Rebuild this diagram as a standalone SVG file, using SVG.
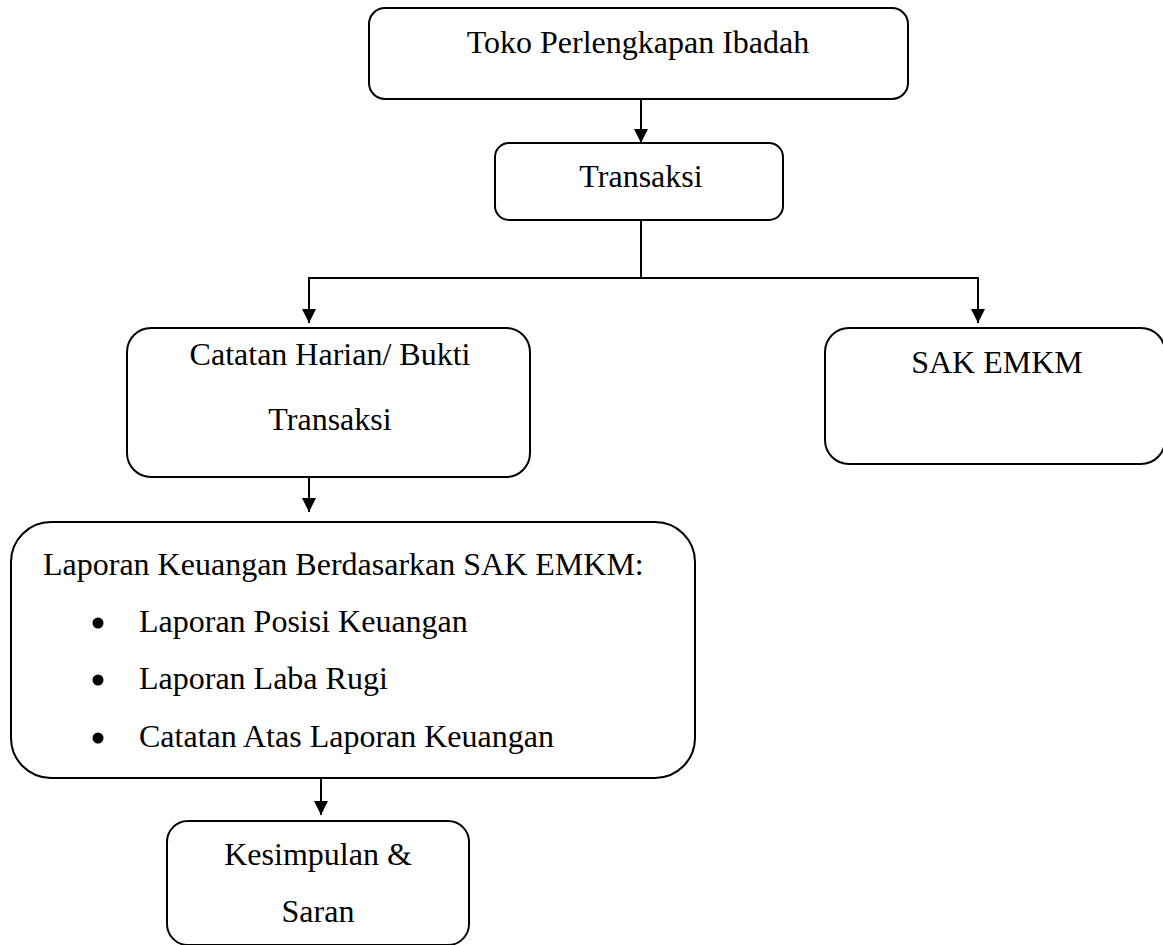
<svg xmlns="http://www.w3.org/2000/svg" width="1163" height="945" viewBox="0 0 1163 945">
  <defs>
    <marker id="arrow" markerUnits="userSpaceOnUse" markerWidth="16" markerHeight="16" refX="14" refY="7" orient="auto">
      <path d="M0,0 L14,7 L0,14 Z" fill="#000"/>
    </marker>
    <style>
      .box { fill: #fff; stroke: #000; stroke-width: 2; }
      .txt { font-family: "Liberation Serif", "Times New Roman", serif; font-size: 32px; fill: #000; }
      .mid { text-anchor: middle; }
      .conn { stroke: #000; stroke-width: 2; fill: none; }
      .dot { fill: #000; }
    </style>
  </defs>
  <rect width="1163" height="945" fill="#fff"/>

  <g id="connectors">
    <line class="conn" x1="641" y1="99" x2="641" y2="143" marker-end="url(#arrow)"/>
    <polyline class="conn" points="641,221 641,278"/>
    <polyline class="conn" points="309,278 978,278"/>
    <line class="conn" x1="309" y1="277" x2="309" y2="323" marker-end="url(#arrow)"/>
    <line class="conn" x1="978" y1="277" x2="978" y2="323" marker-end="url(#arrow)"/>
    <line class="conn" x1="309" y1="477" x2="309" y2="512" marker-end="url(#arrow)"/>
    <line class="conn" x1="321" y1="778" x2="321" y2="815" marker-end="url(#arrow)"/>
  </g>

  <g id="node-toko">
    <rect class="box" x="369" y="8" width="539" height="91" rx="16" ry="16"/>
    <text class="txt mid" x="638" y="53">Toko Perlengkapan Ibadah</text>
  </g>

  <g id="node-transaksi">
    <rect class="box" x="495" y="143" width="288" height="77" rx="14" ry="14"/>
    <text class="txt mid" x="641" y="187">Transaksi</text>
  </g>

  <g id="node-catatan">
    <rect class="box" x="127" y="328" width="403" height="149" rx="24" ry="24"/>
    <text class="txt mid" x="330" y="365">Catatan Harian/ Bukti</text>
    <text class="txt mid" x="330" y="430">Transaksi</text>
  </g>

  <g id="node-sak">
    <rect class="box" x="825" y="328" width="340" height="136" rx="24" ry="24"/>
    <text class="txt mid" x="997" y="373">SAK EMKM</text>
  </g>

  <g id="node-laporan">
    <rect class="box" x="11" y="522" width="684" height="256" rx="40" ry="40"/>
    <text class="txt" x="43" y="575">Laporan Keuangan Berdasarkan SAK EMKM:</text>
    <circle class="dot" cx="98" cy="623" r="5.5"/>
    <text class="txt" x="139" y="632">Laporan Posisi Keuangan</text>
    <circle class="dot" cx="98" cy="680" r="5.5"/>
    <text class="txt" x="139" y="689">Laporan Laba Rugi</text>
    <circle class="dot" cx="98" cy="738" r="5.5"/>
    <text class="txt" x="139" y="747">Catatan Atas Laporan Keuangan</text>
  </g>

  <g id="node-kesimpulan">
    <rect class="box" x="167" y="821" width="302" height="124" rx="21" ry="21"/>
    <text class="txt mid" x="318" y="865">Kesimpulan &amp;</text>
    <text class="txt mid" x="318" y="922">Saran</text>
  </g>
</svg>
